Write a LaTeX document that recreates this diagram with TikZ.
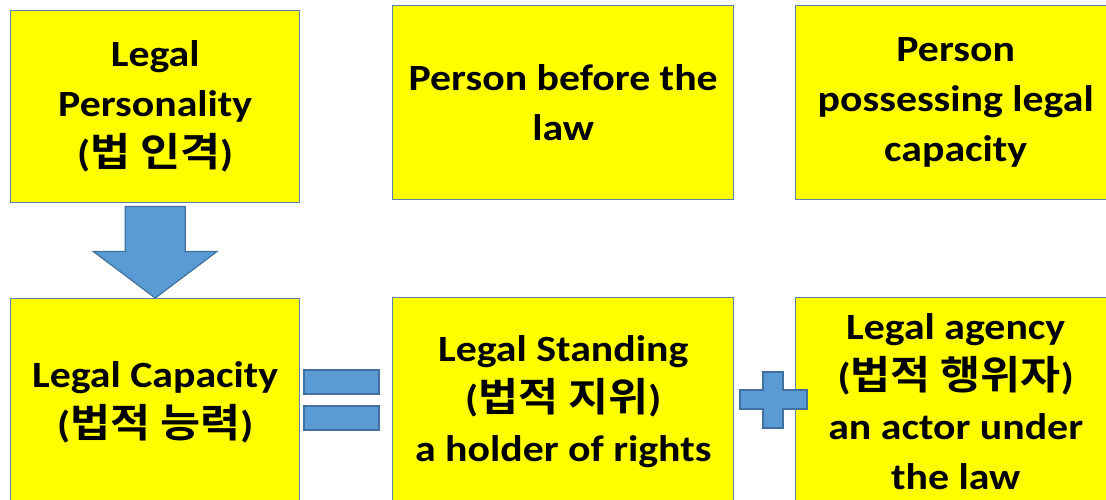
\documentclass[tikz,border=0pt]{standalone}
\usepackage{fontspec}
\setmainfont{Carlito}[FakeStretch=1.13]
\newfontfamily\kr{Noto Sans CJK KR}[BoldFont=* Bold, Scale=1.07, FakeStretch=1.1]
\newcommand{\K}[1]{{\kr\bfseries #1}}
\definecolor{boxfill}{HTML}{FFFF00}
\definecolor{boxline}{HTML}{5B82AE}
\definecolor{symfill}{HTML}{5B9BD5}
\definecolor{symline}{HTML}{41719C}
\tikzset{
  ybox/.style={draw=boxline, line width=1.4pt, fill=boxfill, rectangle, anchor=north west,
    inner sep=0pt, align=center, font=\fontsize{37}{50}\selectfont\bfseries},
  sym/.style={draw=symline, line width=1.2pt, fill=symfill, line join=miter},
}
\begin{document}
\begin{tikzpicture}[x=1pt,y=-1pt]
\useasboundingbox (0,0) rectangle (1106,500);
\clip (0,0) rectangle (1106,500);
% top row
\node[ybox, minimum width=289pt, minimum height=192pt] (lp) at (10,10) {Legal\\Personality\\(\K{법 인격})};
\node[ybox, minimum width=341pt, minimum height=194pt] (pb) at (392,5) {Person before the\\law};
\node[ybox, minimum width=320pt, minimum height=194pt] (pp) at (795,5) {Person\\possessing legal\\capacity};
% bottom row
\node[ybox, minimum width=289pt, minimum height=207pt] (lc) at (10,298) {Legal Capacity\\(\K{법적 능력})};
\node[ybox, minimum width=341pt, minimum height=208pt] (ls) at (392,297) {Legal Standing\\(\K{법적 지위})\\a holder of rights};
\node[ybox, minimum width=320pt, minimum height=208pt] (la) at (795,297) {Legal agency\\(\K{법적 행위자})\\an actor under\\the law};
% down arrow from lp to lc
\coordinate (at) at (lp.south);
\coordinate (ab) at (lc.north);
\draw[sym] ([xshift=-30pt,yshift=-3pt]at) -- ([xshift=30pt,yshift=-3pt]at) -- ([xshift=30pt,yshift=-48pt]at)
  -- ([xshift=62pt,yshift=-48pt]at) -- (ab) -- ([xshift=-62pt,yshift=-48pt]at) -- ([xshift=-30pt,yshift=-48pt]at) -- cycle;
% equals sign
\draw[sym] (304,370) rectangle (379,394);
\draw[sym] (304,406) rectangle (379,430);
% plus sign
\draw[sym] (763,372) -- (783,372) -- (783,390) -- (807,390) -- (807,409) -- (783,409) -- (783,428)
  -- (763,428) -- (763,409) -- (740,409) -- (740,390) -- (763,390) -- cycle;
\end{tikzpicture}
\end{document}
